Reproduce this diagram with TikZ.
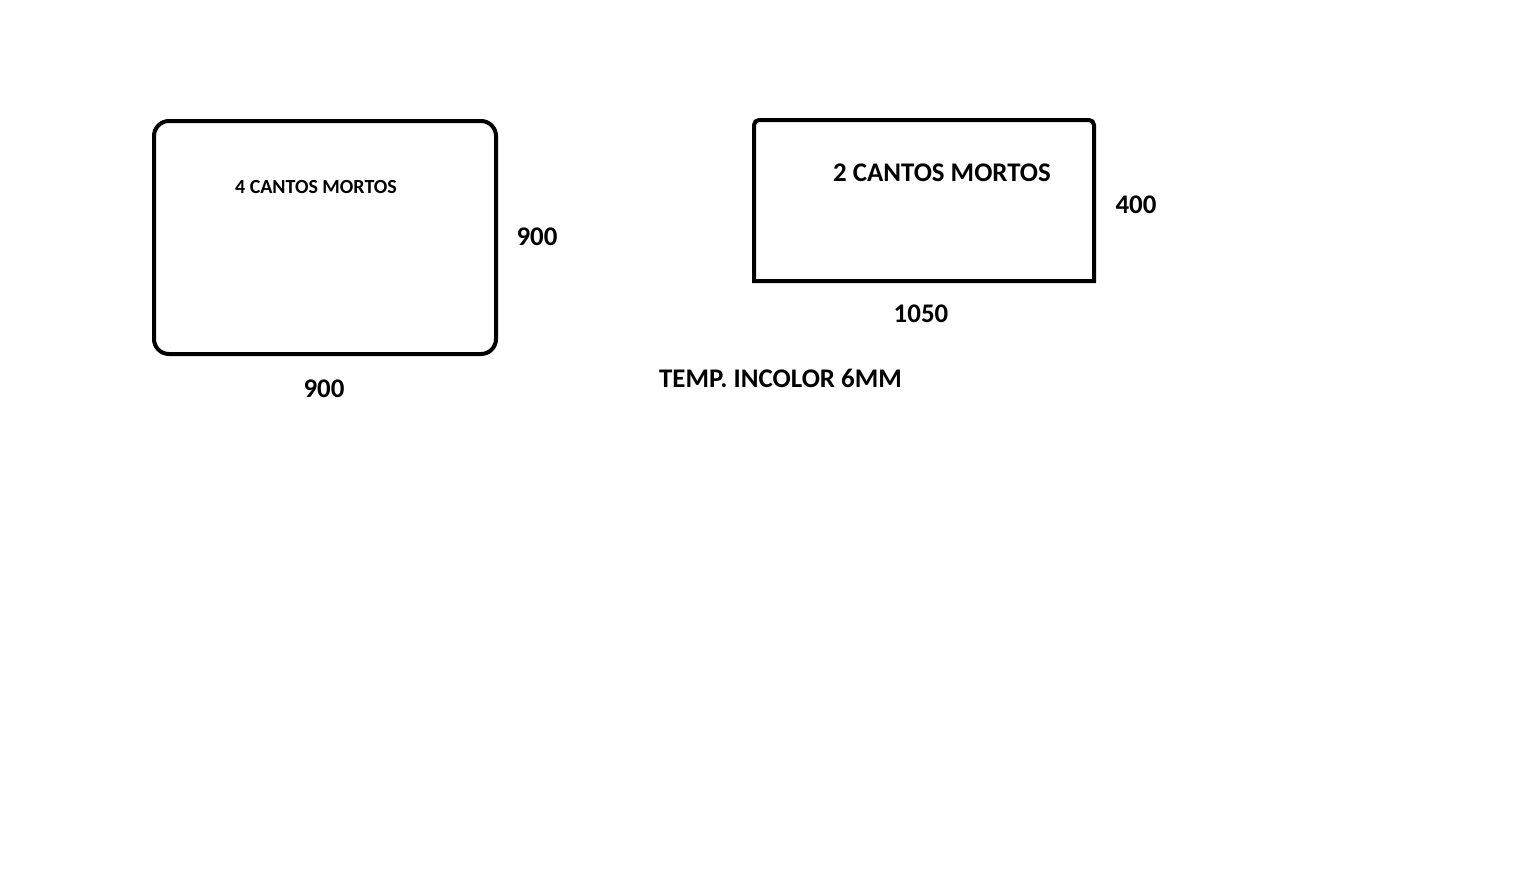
\documentclass[tikz,border=0pt]{standalone}
\usepackage{fontspec}
\setmainfont{Carlito}
\begin{document}
\begin{tikzpicture}[x=1pt,y=-1pt,
  box/.style={line width=4pt,draw=black},
  big/.style={anchor=base,inner sep=0pt,font=\fontsize{26.9}{32}\selectfont\bfseries},
  small/.style={anchor=base,inner sep=0pt,font=\fontsize{20}{24}\selectfont\bfseries}]
\useasboundingbox[fill=white] (0,0) rectangle (1530,892);
% left panel
\draw[box,rounded corners=15pt] (154,121) rectangle (496,354);
\node[small] (l1) at (316,193) {4 CANTOS MORTOS};
\node[big] (l2) at (537,245) {900};
\node[big] (l3) at (324,397) {900};
% right panel
\draw[box] (754,281) -- (754,200) [rounded corners=5pt] -- (754,120) -- (1094,120) -- (1094,200) [sharp corners] -- (1094,281) -- cycle;
\node[big] (r1) at (942,181) {2 CANTOS MORTOS};
\node[big] (r2) at (1136,213) {400};
\node[big] (r3) at (921,322) {1050};
\node[big] (t) at (780.5,387) {TEMP. INCOLOR 6MM};
\end{tikzpicture}
\end{document}
